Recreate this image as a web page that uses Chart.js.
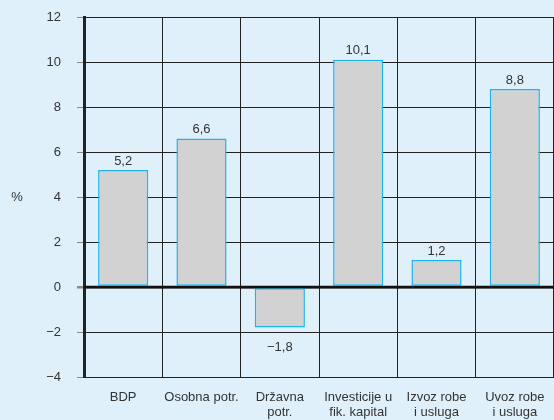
<!DOCTYPE html>
<html>
<head>
<meta charset="utf-8">
<script src="https://cdn.jsdelivr.net/npm/chart.js@4"></script>
<style>
html,body{margin:0;padding:0;background:#e0f0fa;overflow:hidden;}
#wrap{width:554px;height:420px;position:relative;}
</style>
</head>
<body>
<div id="wrap"><canvas id="c"></canvas></div>
<script>
const categories = [["BDP"], ["Osobna potr."], ["Državna", "potr."], ["Investicije u", "fik. kapital"], ["Izvoz robe", "i usluga"], ["Uvoz robe", "i usluga"]];
const values = [5.2, 6.6, -1.8, 10.1, 1.2, 8.8];
const yMin = -4, yMax = 12, yStep = 2;
const unitLabel = "%";

function fmt(v, digits) {
  const s = digits === undefined ? String(v) : v.toFixed(digits);
  return s.replace('.', ',').replace('-', '\u2212');
}

const FONT = "'Liberation Sans', Arial, Helvetica, sans-serif";

const extras = {
  id: 'extras',
  afterDatasetsDraw(chart) {
    const ctx = chart.ctx;
    const meta = chart.getDatasetMeta(0);
    const ys = chart.scales.y;
    const area = chart.chartArea;
    ctx.save();
    // zero line on top of bars
    const y0 = Math.round(ys.getPixelForValue(0));
    ctx.strokeStyle = '#111';
    ctx.lineWidth = 2.5;
    ctx.beginPath();
    ctx.moveTo(area.left, y0);
    ctx.lineTo(area.right, y0);
    ctx.stroke();
    ctx.font = "13px " + FONT;
    ctx.fillStyle = '#333';
    ctx.textAlign = 'center';
    ctx.textBaseline = 'middle';
    meta.data.forEach((bar, i) => {
      const v = values[i];
      const y = v >= 0 ? bar.y - 9 : bar.y + 20;
      ctx.fillText(fmt(v, 1), bar.x, y);
    });
    ctx.fillText(unitLabel, 17, ys.getPixelForValue(4));
    ctx.restore();
  }
};

new Chart(document.getElementById('c'), {
  type: 'bar',
  data: {
    labels: categories,
    datasets: [{
      data: values,
      backgroundColor: '#d2d2d2',
      borderColor: '#1ab4ea',
      borderWidth: 1.5,
      borderSkipped: false,
      categoryPercentage: 1,
      barPercentage: 0.64
    }]
  },
  options: {
    responsive: true,
    maintainAspectRatio: false,
    animation: false,
    layout: { padding: { top: 17, right: -3, left: 0, bottom: 0 } },
    plugins: { legend: { display: false }, tooltip: { enabled: false } },
    scales: {
      x: {
        offset: true,
        afterFit(s) { s.height = 43; s.paddingLeft = 0; s.paddingRight = 0; },
        grid: { offset: true, color: '#222', lineWidth: 1, drawTicks: false },
        border: { display: true, color: '#222', width: 1 },
        ticks: { color: '#333', font: { family: FONT, size: 13, lineHeight: 1.15 }, padding: 13, maxRotation: 0, autoSkip: false }
      },
      y: {
        min: yMin, max: yMax,
        afterFit(s) { s.width = 84; s.paddingTop = 0; s.paddingBottom = 0; },
        ticks: {
          stepSize: yStep,
          color: '#333',
          padding: 16,
          font: { family: FONT, size: 13 },
          callback: v => fmt(v)
        },
        grid: {
          color: c => c.tick && c.tick.value === 0 ? '#111' : '#222',
          lineWidth: c => c.tick && c.tick.value === 0 ? 2.5 : 1,
          tickColor: '#888',
          tickLength: 7
        },
        border: { display: true, color: '#222', width: 3 }
      }
    }
  },
  plugins: [extras]
});
</script>
</body>
</html>
